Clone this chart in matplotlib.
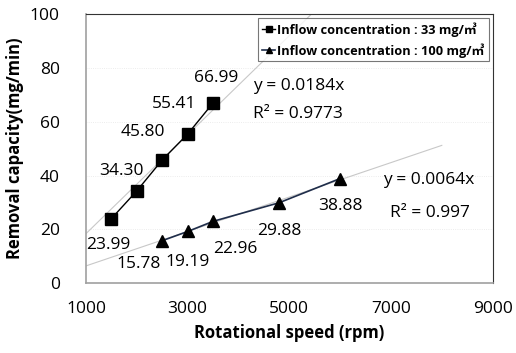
import numpy as np
import matplotlib
matplotlib.use("Agg")
import matplotlib.pyplot as plt

plt.rcParams['font.family'] = ['Open Sans', 'Noto Sans CJK KR', 'DejaVu Sans']

# rotational speed (rpm) and removal capacity (mg/min)
speed_33 = [1500, 2000, 2500, 3000, 3500]
cap_33 = [23.99, 34.30, 45.80, 55.41, 66.99]
speed_100 = [2500, 3000, 3500, 4800, 6000]
cap_100 = [15.78, 19.19, 22.96, 29.88, 38.88]

slope_33, r2_33 = 0.0184, 0.9773
slope_100, r2_100 = 0.0064, 0.997
trend_x_33 = [1000, 5435]
trend_x_100 = [1000, 8000]

x_ticks = [1000, 3000, 5000, 7000, 9000]
y_ticks = [0, 20, 40, 60, 80, 100]

fs = 12.5

fig = plt.figure(figsize=(5.16, 3.53), dpi=100)
ax = fig.add_axes([0.1667, 0.198, 0.788, 0.762])

# trendlines through origin
tx = np.array(trend_x_33)
ax.plot(tx, slope_33 * tx, color='#c8c8c8', lw=0.8, zorder=1)
tx = np.array(trend_x_100)
ax.plot(tx, slope_100 * tx, color='#c8c8c8', lw=0.8, zorder=1)

ax.plot(speed_33, cap_33, color='black', lw=1.0, marker='s', ms=8,
        label='Inflow concentration : 33 mg/㎥', zorder=3)
ax.plot(speed_100, cap_100, color='#1f2d4a', lw=1.2, marker='^', ms=8,
        markerfacecolor='black', markeredgecolor='black',
        label='Inflow concentration : 100 mg/㎥', zorder=3)

# data labels (offsets in points)
off_33 = [(-2, -19), (-11, 14), (-14, 20), (-10, 22), (2, 18)]
off_100 = [(-17, -17), (0, -22), (16, -20), (0, -20), (0, -20)]
for x, y, (dx, dy) in zip(speed_33, cap_33, off_33):
    ax.annotate(f'{y:.2f}', (x, y), xytext=(dx, dy), textcoords='offset points',
                ha='center', va='center', fontsize=fs)
for x, y, (dx, dy) in zip(speed_100, cap_100, off_100):
    ax.annotate(f'{y:.2f}', (x, y), xytext=(dx, dy), textcoords='offset points',
                ha='center', va='center', fontsize=fs)

ax.text(4280, 73.3, f'y = {slope_33}x', fontsize=fs, ha='left', va='center')
ax.text(4280, 62.8, f'R² = {r2_33}', fontsize=fs, ha='left', va='center')
ax.text(6840, 38.4, f'y = {slope_100}x', fontsize=fs, ha='left', va='center')
ax.text(6980, 26.0, f'R² = {r2_100}', fontsize=fs, ha='left', va='center')

ax.set_xlim(1000, 9000)
ax.set_ylim(0, 100)
ax.set_xticks(x_ticks)
ax.set_yticks(y_ticks)
ax.tick_params(length=0, labelsize=fs, pad=13)
ax.tick_params(axis='y', pad=19)
ax.yaxis.grid(True, color='#e6e6e6', lw=0.6, ls=':')
ax.set_axisbelow(True)
for side in ['top', 'right']:
    ax.spines[side].set_color('#333333')
for side in ['left', 'bottom']:
    ax.spines[side].set_color('#a0a0a0')
    ax.spines[side].set_linewidth(1.2)

ax.set_xlabel('Rotational speed (rpm)', fontsize=12, fontweight='bold', labelpad=5)
ax.set_ylabel('Removal capacity(mg/min)', fontsize=12, fontweight='bold', labelpad=4)

leg = ax.legend(loc='upper right', bbox_to_anchor=(0.99, 0.985),
                prop={'weight': 'bold', 'size': 9.2}, frameon=True, fancybox=False,
                edgecolor='#555555', handlelength=1.0, handletextpad=0.2,
                borderpad=0.3, labelspacing=0.5, markerscale=0.55, borderaxespad=0)
leg.get_frame().set_linewidth(0.8)

fig.savefig('out.png', dpi=100)
